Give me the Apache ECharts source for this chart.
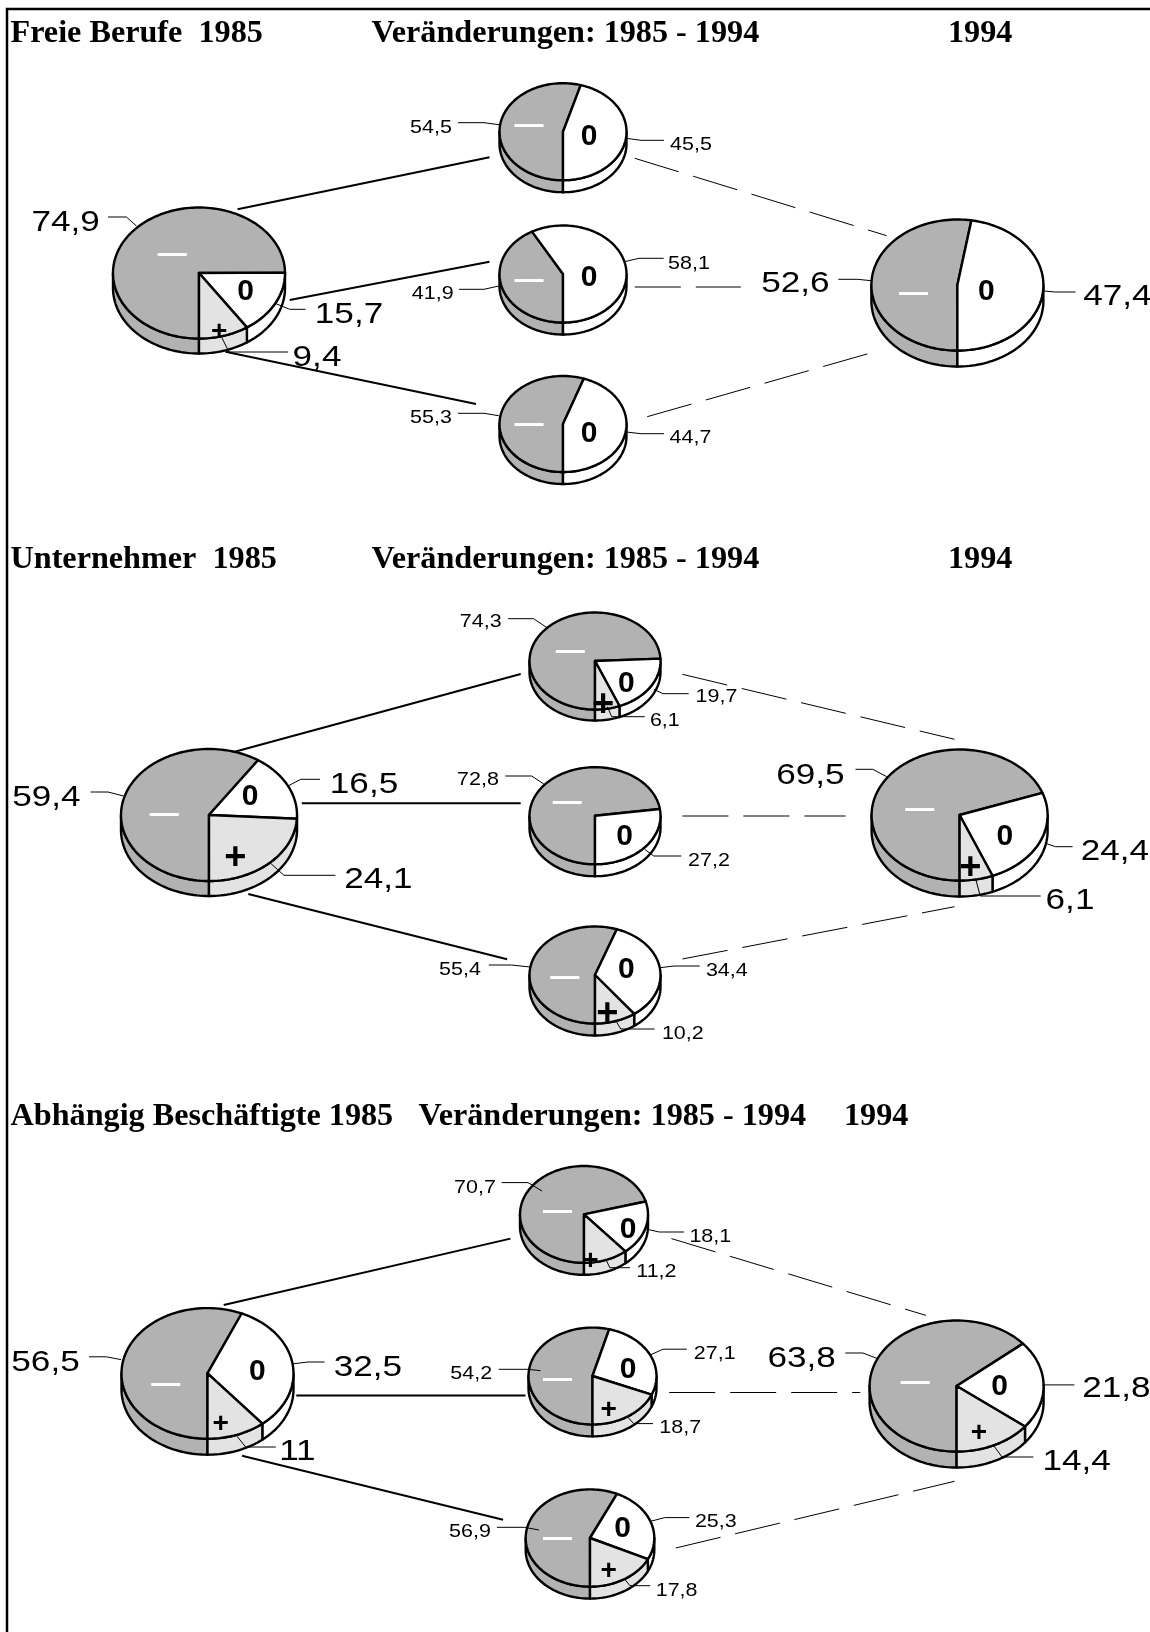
<!DOCTYPE html>
<html><head><meta charset="utf-8">
<style>html,body{margin:0;padding:0;background:#fff}#c{width:1150px;height:1632px}</style>
<script src="https://cdn.jsdelivr.net/npm/echarts@6/dist/echarts.min.js"></script>
</head><body><div id="c"></div>
<script>
// values: [minus, zero, plus] in percent
const freie1985 = [74.9, 15.7, 9.4];
const freieA = [54.5, 45.5, 0];
const freieB = [41.9, 58.1, 0];
const freieC = [55.3, 44.7, 0];
const freie1994 = [52.6, 47.4, 0];
const unter1985 = [59.4, 16.5, 24.1];
const unterA = [74.3, 19.7, 6.1];
const unterB = [72.8, 27.2, 0];
const unterC = [55.4, 34.4, 10.2];
const unter1994 = [69.5, 24.4, 6.1];
const abh1985 = [56.5, 32.5, 11];
const abhA = [70.7, 18.1, 11.2];
const abhB = [54.2, 27.1, 18.7];
const abhC = [56.9, 25.3, 17.8];
const abh1994 = [63.8, 21.8, 14.4];
const titles = [
  ['Freie Berufe  1985', 'Veränderungen: 1985 - 1994', '1994'],
  ['Unternehmer  1985', 'Veränderungen: 1985 - 1994', '1994'],
  ['Abhängig Beschäftigte 1985', 'Veränderungen: 1985 - 1994', '1994']
];
const signs = ['—', '0', '+'];

// layout (chart coordinates), kept apart from the values
const titleLayout = [[[10.5, 18], [371.5, 18], [948, 18]], [[10.5, 544], [371.5, 544], [948, 544]], [[10.5, 1101], [418.4, 1101], [844, 1101]]];
const BIG = 30, SMALL = 19, PLUS_B = 38, PLUS_S = 28;
const layout = [
 {v:freie1985,c:[198,273],r:[86,65.5],d:15,big:1,plus:PLUS_S,inner:[[172.3,253.3],[245.7,290],[219.3,331]],
  lab:[[65.6,221.7,[108,217,126.5,217,136.4,226]],[349,313,[305.5,309.3,289.7,309.3,275,303.3]],[317,356.7,[288,352,229,352,222,338]]]},
 {v:freieA,c:[562,131.7],r:[63.5,48.5],d:12,plus:PLUS_S,inner:[[529,124.3],[589,135]],
  lab:[[431,126.3,[458,122.7,484,122.7,499,124.7]],[691,143.3,[664,140.3,641,140.3,626.3,138.3]]]},
 {v:freieB,c:[562,274],r:[63.5,48.5],d:12,plus:PLUS_S,inner:[[529,279],[589,276.7]],
  lab:[[432.7,292.3,[459,289.3,484,289.3,498.7,286]],[689,262.3,[663.7,258.3,639,258.3,624.5,261.7]]]},
 {v:freieC,c:[562,424],r:[63.5,48],d:12,plus:PLUS_S,inner:[[529,423.3],[589,432.3]],
  lab:[[431,416.3,[458,413.3,484,413.3,498.7,415.7]],[690.5,436.3,[664,433.7,641,433.7,626.3,432]]]},
 {v:freie1994,c:[956.4,285],r:[86,65.5],d:16,big:1,plus:PLUS_S,inner:[[913.5,292.3],[986.4,290]],
  lab:[[795.4,282.7,[838.3,279.3,857.4,279.3,871.3,280.7]],[1117.4,295.7,[1075.6,292,1055.4,292,1043.6,291]]]},

 {v:unter1985,c:[208,815],r:[88,66],d:15,big:1,plus:PLUS_B,inner:[[164.3,813.3],[250,795],[235.4,857.3]],
  lab:[[46.4,796,[90.6,792,108,792,123.6,796]],[364,783.7,[320,779.3,300.7,779.3,288.6,785.7]],[378.4,878.7,[335.5,875.3,284,875.3,270.6,863.3]]]},
 {v:unterA,c:[594,661],r:[65.5,48.5],d:11,plus:PLUS_B,inner:[[570.2,650],[626.3,682.3],[603.2,704]],
  lab:[[480.7,620.7,[508,618.7,533.5,618.7,546.4,627.3]],[716.5,695.7,[688.7,693.7,663,693.7,653.8,689.3]],[664.8,719.3,[644.7,716.7,611.7,716.7,607.3,706.7]]]},
 {v:unterB,c:[594,815.7],r:[65.5,48.5],d:12,plus:PLUS_B,inner:[[567.3,801.3],[624.5,835.7]],
  lab:[[478,778.7,[505.3,776,531.7,776,543.8,784]],[709,859.3,[681.3,856,653.8,856,644.7,849.3]]]},
 {v:unterC,c:[594,975],r:[65.5,48.5],d:12,plus:PLUS_B,inner:[[564.7,976.3],[626.3,968.3],[607.3,1012.7]],
  lab:[[460,968.7,[488.8,965,511.5,965,530,967]],[726.8,969.3,[699.7,966,674,966,660,967.7]],[682.8,1032,[654.6,1029,620.8,1029,615.3,1020]]]},
 {v:unter1994,c:[958.6,815],r:[88,65.5],d:16,big:1,plus:PLUS_B,inner:[[919.7,808],[1004.8,835.7],[970.3,866.7]],
  lab:[[810.4,774,[855.5,769.3,872.8,769.3,886.7,776.7]],[1114.8,850.3,[1072.6,846.7,1055.4,846.7,1045.5,843.3]],[1070,899.7,[1040.7,896,980.2,896,975.8,879.3]]]},

 {v:abh1985,c:[206.5,1373.4],r:[86,65.3],d:16,big:1,plus:PLUS_S,inner:[[165.7,1383.1],[257.4,1370.7],[220.8,1422.5]],
  lab:[[45.5,1361.3,[89,1356.8,106.3,1356.8,121,1359.6]],[367.8,1366.2,[324.5,1362,308,1362,293.4,1363.8]],[297.4,1450.2,[275.8,1447,245.7,1447,236.5,1435.7]]]},
 {v:abhA,c:[583,1214.4],r:[64,48.4],d:12,plus:PLUS_S,inner:[[557.4,1210],[628.2,1228.3],[590.4,1260]],
  lab:[[475,1186,[501.6,1182.6,528,1182.6,542,1191]],[710.3,1235.2,[684,1232,659.3,1232,647.2,1229.3]],[656.4,1270,[630,1267.7,609.8,1267.7,606.2,1260]]]},
 {v:abhB,c:[591.5,1376],r:[64,48.4],d:12,plus:PLUS_S,inner:[[557.4,1378],[628.2,1368.3],[608.7,1409]],
  lab:[[471.2,1372,[498.7,1369.3,528,1369.3,540.5,1370.7]],[714.7,1352,[686.8,1349.2,663,1349.2,650.2,1355]],[680.2,1426,[653,1423.6,633.7,1423.6,627.4,1416.7]]]},
 {v:abhC,c:[589,1538],r:[64.3,48.6],d:12,plus:PLUS_S,inner:[[557.4,1537.3],[622.7,1527.3],[608.7,1569.4]],
  lab:[[470,1530,[496.9,1527.3,524.4,1527.3,539,1530]],[715.8,1520.3,[689.4,1517.6,664.8,1517.6,650.2,1521.4]],[676.6,1588.8,[650.2,1585.7,630,1585.7,624.5,1579]]]},
 {v:abh1994,c:[955.6,1386],r:[87,65.5],d:16,big:1,plus:PLUS_S,inner:[[915.3,1381.4],[999.6,1385.5],[979,1432]],
  lab:[[801.6,1356.9,[845.3,1353,862.9,1353,877.5,1358.6]],[1116.3,1387.3,[1074.4,1384.9,1042.5,1384.9]],[1076.6,1459.9,[1033.4,1457,1002,1457,994,1446]]]}
];
const solidLinks = [
 [237.6,209.3,489.5,157.3],[289.7,300,489.5,261.7],[225.5,351.7,476,404],
 [234.7,751.7,520.7,674],[301.8,803.3,520.7,803.3],[248.3,894,507.1,959.3],
 [223.7,1305,510.5,1238.6],[296.3,1395.6,525.5,1395.6],[242,1455.7,503.1,1519.7]
];
const dashedLinks = [
 [634.8,158.3,886.7,235.7],[634.8,287,740.8,287],[647.2,416.7,869.5,353.3],
 [682.4,674.3,954.5,739.3],[682.4,816,845.6,816],[682.4,959,954.5,906.7],
 [671.4,1238.6,926,1315.4],[669.2,1392.5,860.3,1392.5],[675.8,1548,954.5,1481.3]
];
const frame = [[7,1632],[7,9],[1150,9]];
const PIE_SHIFT_X = 1, TEXT_SHIFT_Y = 1.5;

const fills = ['#B2B2B2', '#FFFFFF', '#E3E3E3'];
const DEG = Math.PI / 180;

function pieChildren(p, api) {
  const c = api.coord([p.c[0] + PIE_SHIFT_X, p.c[1]]), sz = api.size(p.r), d = api.size([0, p.d])[1];
  const rx = sz[0], ry = sz[1];
  // angle t: degrees clockwise (on screen) from the bottom of the ellipse
  const pt = (t, dy) => [c[0] - rx * Math.sin(t * DEG), c[1] + ry * Math.cos(t * DEG) + (dy || 0)];
  const arc = (a, b, dy) => {
    const out = [], n = Math.max(2, Math.ceil(Math.abs(b - a) / 2));
    for (let i = 0; i <= n; i++) out.push(pt(a + (b - a) * i / n, dy));
    return out;
  };
  const total = p.v.reduce((s, x) => s + x, 0);
  const kids = [];
  const wall = (a, b, fill) => {
    if (b <= a) return;
    kids.push({type: 'polygon', shape: {points: arc(a, b, 0).concat(arc(b, a, d))},
      style: {fill: fill, stroke: '#000', lineWidth: 2.4, lineJoin: 'round'}});
  };
  let a = 0; const spans = [];
  p.v.forEach((val, i) => { const b = a + val / total * 360; if (val > 0) spans.push([a, b, i]); a = b; });
  spans.forEach(s => {
    wall(Math.max(s[0], 0), Math.min(s[1], 90), fills[s[2]]);
    wall(Math.max(s[0], 270), Math.min(s[1], 360), fills[s[2]]);
  });
  spans.forEach(s => {
    kids.push({type: 'polygon', shape: {points: [c].concat(arc(s[0], s[1], 0))},
      style: {fill: fills[s[2]], stroke: '#000', lineWidth: 2.4, lineJoin: 'round'}});
  });
  return kids;
}
function polyline(pts, api, lw, dash) {
  const pp = [];
  for (let i = 0; i < pts.length; i += 2) pp.push(api.coord([pts[i], pts[i + 1]]));
  return {type: 'polyline', shape: {points: pp}, style: {fill: null, stroke: '#000', lineWidth: lw, lineDash: dash || null}};
}
function text(str, pos, font, color, sx, api) {
  const q = api.coord([pos[0], pos[1] + TEXT_SHIFT_Y]);
  return {type: 'text', x: q[0], y: q[1], scaleX: sx || 1, originX: 0, z2: 5,
    style: {text: str, font: font, fill: color, align: 'center', verticalAlign: 'middle'}};
}
function pieAnnotations(p, api) {
  const kids = [];
  const size = p.big ? BIG : SMALL;
  let j = 0;
  p.v.forEach((val, i) => {
    if (val <= 0) return;
    const l = p.lab[j], m = p.inner[j]; j++;
    kids.push(polyline(l[2], api, 1));
    kids.push(text(String(val).replace('.', ','), [l[0], l[1]], size + 'px "Liberation Sans"', '#000', p.big ? 1.17 : 1.13, api));
    if (i === 0) kids.push(text(signs[0], m, 'bold 29px "Liberation Sans"', '#fff', 1, api));
    else if (i === 1) kids.push(text(signs[1], m, 'bold 30px "Liberation Sans"', '#000', 1, api));
    else kids.push(text(signs[2], m, 'bold ' + p.plus + 'px "Liberation Sans"', '#000', 1, api));
  });
  return kids;
}

const titleOpts = [];
titles.forEach((row, r) => row.forEach((t, k) => titleOpts.push({
  text: t, left: titleLayout[r][k][0], top: titleLayout[r][k][1], padding: 0,
  textStyle: {fontFamily: '"Liberation Serif"', fontWeight: 'bold', fontSize: 32.2, color: '#000'}
})));

const chart = echarts.init(document.getElementById('c'), null, {renderer: 'canvas'});
chart.setOption({
  animation: false,
  backgroundColor: '#fff',
  title: titleOpts,
  grid: {left: 0, right: 0, top: 0, bottom: 0},
  xAxis: {type: 'value', min: 0, max: 1150, show: false},
  yAxis: {type: 'value', min: 0, max: 1632, inverse: true, show: false},
  series: [
    {type: 'custom', name: 'Rahmen und Verbindungen', coordinateSystem: 'cartesian2d', clip: false, silent: true,
     data: [[0, 0]],
     renderItem: (params, api) => ({type: 'group', children: [
        polyline(frame.flat(), api, 2.5),
        ...solidLinks.map(l => polyline(l, api, 2)),
        ...dashedLinks.map(l => polyline(l, api, 1, [46, 15]))
     ]})},
    {type: 'custom', name: 'Kreise', coordinateSystem: 'cartesian2d', clip: false, silent: true,
     data: layout.map((p, i) => [p.c[0], p.c[1], i]),
     renderItem: (params, api) => {
       const p = layout[api.value(2)];
       return {type: 'group', children: pieChildren(p, api).concat(pieAnnotations(p, api))};
     }}
  ]
});
</script></body></html>
